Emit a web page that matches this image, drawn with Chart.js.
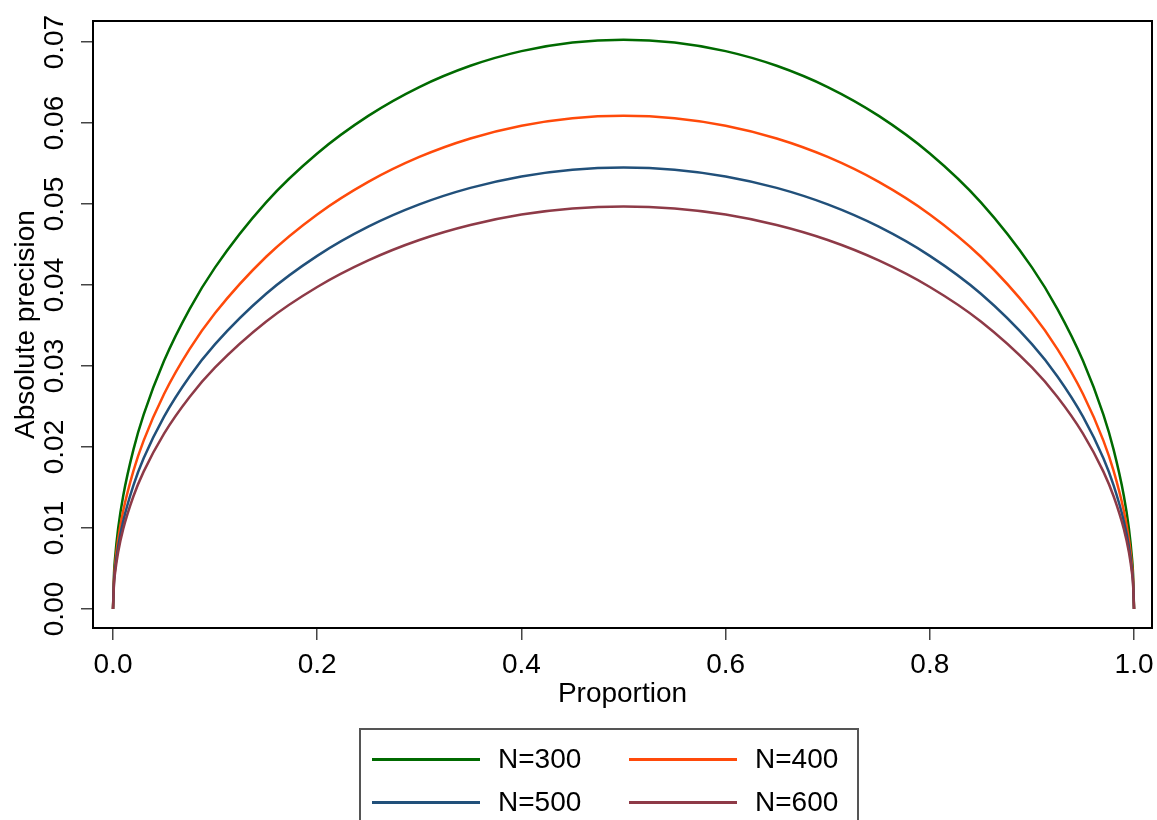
<!DOCTYPE html>
<html>
<head>
<meta charset="utf-8">
<script src="https://cdn.jsdelivr.net/npm/chart.js@4"></script>
<style>
  body { margin: 0; background: #fff; overflow: hidden; font-family: "Liberation Sans", Arial, sans-serif; }
  #wrap { position: relative; width: 1157px; height: 820px; }
  #legend { position: absolute; left: 359px; top: 728px; width: 500px; height: 120px; border: 2px solid #555; box-sizing: border-box; }
  .item { position: absolute; height: 30px; }
  .swatch { position: absolute; left: 0; top: 14px; width: 108px; height: 3px; }
  .label { position: absolute; left: 126px; top: 0; font-size: 28px; line-height: 30px; color: #000; white-space: nowrap; }
</style>
</head>
<body>
<div id="wrap">
  <canvas id="precisionChart" width="1157" height="820"></canvas>
  <div id="legend"></div>
</div>
<script>
const proportion = [0, 0.001, 0.002, 0.005, 0.01, 0.02, 0.03, 0.05, 0.075, 0.1, 0.15, 0.2, 0.25, 0.3, 0.35, 0.4, 0.45, 0.5,
    0.55, 0.6, 0.65, 0.7, 0.75, 0.8, 0.85, 0.9, 0.925, 0.95, 0.97, 0.98, 0.99, 0.995, 0.998, 0.999, 1];

const n300 = [0, 0.00444, 0.00629, 0.00992, 0.01399, 0.01968, 0.02399, 0.03064, 0.03703, 0.04218, 0.05021, 0.05624, 0.06088, 0.06444, 0.06707, 0.06888, 0.06995, 0.0703,
    0.06995, 0.06888, 0.06707, 0.06444, 0.06088, 0.05624, 0.05021, 0.04218, 0.03703, 0.03064, 0.02399, 0.01968, 0.01399, 0.00992, 0.00629, 0.00444, 0];
const n400 = [0, 0.00385, 0.00544, 0.00859, 0.01212, 0.01705, 0.02078, 0.02654, 0.03208, 0.03654, 0.04349, 0.04872, 0.05274, 0.05582, 0.0581, 0.05967, 0.0606, 0.0609,
    0.0606, 0.05967, 0.0581, 0.05582, 0.05274, 0.04872, 0.04349, 0.03654, 0.03208, 0.02654, 0.02078, 0.01705, 0.01212, 0.00859, 0.00544, 0.00385, 0];
const n500 = [0, 0.00344, 0.00487, 0.00769, 0.01085, 0.01526, 0.0186, 0.02375, 0.02871, 0.0327, 0.03892, 0.0436, 0.0472, 0.04995, 0.05199, 0.0534, 0.05423, 0.0545,
    0.05423, 0.0534, 0.05199, 0.04995, 0.0472, 0.0436, 0.03892, 0.0327, 0.02871, 0.02375, 0.0186, 0.01526, 0.01085, 0.00769, 0.00487, 0.00344, 0];
const n600 = [0, 0.00314, 0.00444, 0.00701, 0.00989, 0.01392, 0.01696, 0.02166, 0.02618, 0.02982, 0.0355, 0.03976, 0.04304, 0.04556, 0.04741, 0.0487, 0.04945, 0.0497,
    0.04945, 0.0487, 0.04741, 0.04556, 0.04304, 0.03976, 0.0355, 0.02982, 0.02618, 0.02166, 0.01696, 0.01392, 0.00989, 0.00701, 0.00444, 0.00314, 0];

const seriesNames = ["N=300", "N=400", "N=500", "N=600"];
const seriesColors = ["#006a00", "#ff4a0a", "#21507a", "#8e3a47"];
const xTicks = [0, 0.2, 0.4, 0.6, 0.8, 1.0];
const yTicks = [0, 0.01, 0.02, 0.03, 0.04, 0.05, 0.06, 0.07];

const FONT = "'Liberation Sans', Arial, sans-serif";

// border around the plot region
const frame = {
    id: "frame",
    afterDatasetsDraw(chart) {
        const a = chart.chartArea;
        const ctx = chart.ctx;
        ctx.save();
        ctx.strokeStyle = "#000";
        ctx.lineWidth = 2;
        ctx.strokeRect(a.left, a.top, a.right - a.left, a.bottom - a.top);
        ctx.restore();
    }
};

function drawChart() {
    const allSeries = [n300, n400, n500, n600];
    const ctx = document.getElementById("precisionChart").getContext("2d");
    new Chart(ctx, {
        type: "line",
        data: {
            datasets: allSeries.map((vals, i) => ({
                label: seriesNames[i],
                data: proportion.map((p, j) => ({x: p, y: vals[j]})),
                borderColor: seriesColors[i],
                backgroundColor: seriesColors[i],
                borderWidth: 2.5,
                pointRadius: 0,
                cubicInterpolationMode: "monotone",
                fill: false
            })).reverse()
        },
        options: {
            responsive: false,
            animation: false,
            layout: {padding: {left: 0, top: 21, right: 5, bottom: 112}},
            plugins: {legend: {display: false}, tooltip: {enabled: false}},
            scales: {
                x: {
                    type: "linear",
                    min: -0.0196,
                    max: 1.0176,
                    afterBuildTicks: s => { s.ticks = xTicks.map(v => ({value: v})); },
                    afterFit: s => { s.height = 80; s.paddingLeft = 0; s.paddingRight = 0; },
                    grid: {display: true, drawOnChartArea: false, drawTicks: true, tickLength: 12, color: "#444", lineWidth: 1.5},
                    border: {display: false},
                    ticks: {
                        color: "#000",
                        padding: 8,
                        maxRotation: 0,
                        font: {family: FONT, size: 28},
                        callback: v => Number(v).toFixed(1)
                    },
                    title: {display: true, text: "Proportion", color: "#000", font: {family: FONT, size: 28}, padding: {top: 0, bottom: -3}}
                },
                y: {
                    type: "linear",
                    min: -0.00235,
                    max: 0.0726,
                    afterBuildTicks: s => { s.ticks = yTicks.map(v => ({value: v})); },
                    afterFit: s => { s.width = 93; s.paddingTop = 0; s.paddingBottom = 0; },
                    grid: {display: true, drawOnChartArea: false, drawTicks: true, tickLength: 12, color: "#444", lineWidth: 1.5},
                    border: {display: false},
                    ticks: {
                        color: "#000",
                        padding: -2,
                        minRotation: 90,
                        maxRotation: 90,
                        crossAlign: "center",
                        font: {family: FONT, size: 28},
                        callback: v => Number(v).toFixed(2)
                    },
                    title: {display: true, text: "Absolute precision", color: "#000", font: {family: FONT, size: 28}, padding: {top: 9, bottom: 0}}
                }
            }
        },
        plugins: [frame]
    });
}

function buildLegend() {
    const box = document.getElementById("legend");
    const spots = [[11, 14], [268, 14], [11, 57], [268, 57]];
    seriesNames.forEach((name, i) => {
        const item = document.createElement("div");
        item.className = "item";
        item.style.left = spots[i][0] + "px";
        item.style.top = spots[i][1] + "px";
        item.innerHTML = `<div class="swatch" style="background:${seriesColors[i]}"></div><div class="label">${name}</div>`;
        box.appendChild(item);
    });
}

window.onload = function() {
    drawChart();
    buildLegend();
};
</script>
</body>
</html>
